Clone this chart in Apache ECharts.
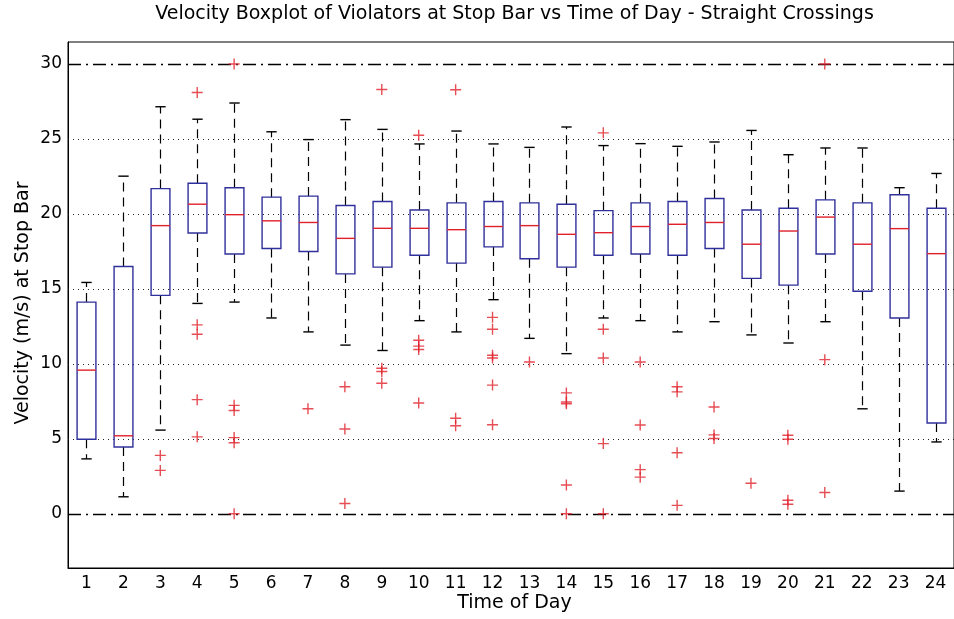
<!DOCTYPE html>
<html>
<head>
<meta charset="utf-8">
<script src="https://cdn.jsdelivr.net/npm/echarts@6/dist/echarts.min.js"></script>
<style>
html,body{margin:0;padding:0;background:#fff;}
#chart{width:954px;height:619px;}
</style>
</head>
<body>
<div id="chart"></div>
<script>
const hours = ['1','2','3','4','5','6','7','8','9','10','11','12','13','14','15','16','17','18','19','20','21','22','23','24'];
const lowerWhisker = [3.66,1.13,5.58,14.03,14.12,13.06,12.13,11.25,10.89,12.88,12.13,14.28,11.70,10.68,13.06,12.88,12.13,12.81,11.93,11.39,12.81,7.00,1.51,4.79];
const q1 = [4.97,4.45,14.57,18.73,17.33,17.69,17.49,16.00,16.45,17.24,16.72,17.80,17.01,16.45,17.24,17.33,17.24,17.69,15.70,15.25,17.33,14.84,13.06,6.05];
const median = [9.58,5.20,19.22,20.65,19.95,19.54,19.43,18.37,19.04,19.04,18.95,19.16,19.22,18.64,18.75,19.16,19.31,19.43,17.98,18.86,19.79,17.98,19.02,17.35];
const q3 = [14.12,16.49,21.69,22.05,21.75,21.12,21.19,20.56,20.83,20.26,20.74,20.83,20.74,20.65,20.22,20.74,20.83,21.03,20.26,20.38,20.94,20.74,21.28,20.38];
const upperWhisker = [15.43,22.52,27.15,26.32,27.40,25.48,24.96,26.29,25.64,24.67,25.53,24.67,24.44,25.80,24.56,24.69,24.51,24.80,25.57,23.95,24.40,24.40,21.75,22.70];
const outliers = [
  [], [], [3.89,2.89], [28.10,12.60,11.97,7.61,5.13], [30.0,7.23,6.89,5.08,4.74,0],
  [], [7.00], [8.47,5.65,0.68], [28.30,9.71,9.49,8.70], [25.25,11.57,11.18,10.96,7.39],
  [28.28,6.37,5.87], [13.10,12.31,10.57,10.39,8.58,5.94], [10.12], [8.06,7.45,7.34,1.92,0],
  [25.41,12.31,10.39,4.68,0], [10.12,5.92,2.94,2.44], [8.47,8.13,4.07,0.56], [7.12,5.26,5.02],
  [2.03], [5.24,4.97,0.90,0.63], [30.0,10.28,1.42], [], [], []
];
const yTicks = [0,5,10,15,20,25,30];
const dotGrid = [5,10,15,20,25];
const refLines = [0,30];

const FONT = '"DejaVu Sans", sans-serif';
const chart = echarts.init(document.getElementById('chart'));

const boxData = hours.map((h,i)=>[i, lowerWhisker[i], q1[i], median[i], q3[i], upperWhisker[i]]);
const outData = [];
outliers.forEach((arr,i)=>arr.forEach(v=>outData.push([i,v])));

function renderBox(params, api){
  const x = api.value(0);
  const unit = api.size([1,0])[0];
  const half = unit*0.255, cap = unit*0.14;
  const cx = Math.round(api.coord([x,0])[0]) + 0.5;
  const yLW = api.coord([x, api.value(1)])[1];
  const yQ1 = api.coord([x, api.value(2)])[1];
  const yMed = api.coord([x, api.value(3)])[1];
  const yQ3 = api.coord([x, api.value(4)])[1];
  const yUW = api.coord([x, api.value(5)])[1];
  const dash = {stroke:'#000', lineWidth:1.2, lineDash:[9,6], fill:null};
  const solid = {stroke:'#000', lineWidth:1.4, fill:null};
  return {type:'group', children:[
    {type:'line', shape:{x1:cx,y1:yQ3,x2:cx,y2:yUW}, style:dash},
    {type:'line', shape:{x1:cx,y1:yQ1,x2:cx,y2:yLW}, style:dash},
    {type:'line', shape:{x1:cx-cap,y1:yUW,x2:cx+cap,y2:yUW}, style:solid},
    {type:'line', shape:{x1:cx-cap,y1:yLW,x2:cx+cap,y2:yLW}, style:solid},
    {type:'rect', shape:{x:cx-half,y:yQ3,width:2*half,height:yQ1-yQ3}, style:{fill:null, stroke:'#30309c', lineWidth:1.4}},
    {type:'line', shape:{x1:cx-half,y1:yMed,x2:cx+half,y2:yMed}, style:{stroke:'#e0202a', lineWidth:1.4}}
  ]};
}

function renderGrid(params, api){
  const v = api.value(1);
  const cs = params.coordSys;
  const y = Math.round(api.coord([0, v])[1]) + 0.5;
  return {type:'line', shape:{x1:cs.x, y1:y, x2:cs.x+cs.width, y2:y},
    style:{stroke:'#222', lineWidth:1, lineDash:[1,4]}};
}
function renderRef(params, api){
  const v = api.value(1);
  const cs = params.coordSys;
  const y = Math.round(api.coord([0, v])[1]) + 0.5;
  return {type:'line', shape:{x1:cs.x, y1:y, x2:cs.x+cs.width, y2:y},
    style:{stroke:'#000', lineWidth:1.3, lineDash:[13,5,2,5]}};
}

const plusPath = 'path://M4.8,0 L6.2,0 L6.2,4.8 L11,4.8 L11,6.2 L6.2,6.2 L6.2,11 L4.8,11 L4.8,6.2 L0,6.2 L0,4.8 L4.8,4.8 Z';

chart.setOption({
  backgroundColor:'#fff',
  animation:false,
  grid:{left:68, top:42, width:893, height:526, show:true, borderColor:'#000', borderWidth:1, backgroundColor:'#fff'},
  xAxis:{type:'category', data:hours, boundaryGap:true,
    axisLine:{show:true, onZero:false, lineStyle:{color:'#000', width:1}},
    axisTick:{show:false},
    axisLabel:{color:'#000', fontFamily:FONT, fontSize:17, margin:7, interval:0},
    splitLine:{show:false}},
  yAxis:{type:'value', min:-3.62, max:31.47, splitNumber:7,
    axisLine:{show:true, onZero:false, lineStyle:{color:'#000', width:1}},
    axisTick:{show:false},
    axisLabel:{color:'#000', fontFamily:FONT, fontSize:17, margin:6, customValues:yTicks},
    splitLine:{show:false}},
  graphic:[
    {type:'text', x:514.5, y:14, style:{text:'Velocity Boxplot of Violators at Stop Bar vs Time of Day - Straight Crossings', fill:'#000', font:'19px '+FONT, textAlign:'center', textVerticalAlign:'middle'}},
    {type:'text', x:514.5, y:603, style:{text:'Time of Day', fill:'#000', font:'19px '+FONT, textAlign:'center', textVerticalAlign:'middle'}},
    {type:'text', x:23, y:303, rotation:Math.PI/2, style:{text:'Velocity (m/s) at Stop Bar', fill:'#000', font:'19px '+FONT, textAlign:'center', textVerticalAlign:'middle'}}
  ],
  series:[
    {type:'custom', name:'grid', renderItem:renderGrid, data:dotGrid.map(v=>[0,v]), encode:{x:0,y:1}, z:1, silent:true, clip:true},
    {type:'custom', name:'ref', renderItem:renderRef, data:refLines.map(v=>[0,v]), encode:{x:0,y:1}, z:2, silent:true, clip:true},
    {type:'custom', name:'box', renderItem:renderBox, data:boxData, encode:{x:0, y:[1,2,3,4,5]}, z:3},
    {type:'scatter', name:'outliers', data:outData, symbol:plusPath, symbolSize:11, itemStyle:{color:'#e0202a'}, z:4}
  ]
});
</script>
</body>
</html>
